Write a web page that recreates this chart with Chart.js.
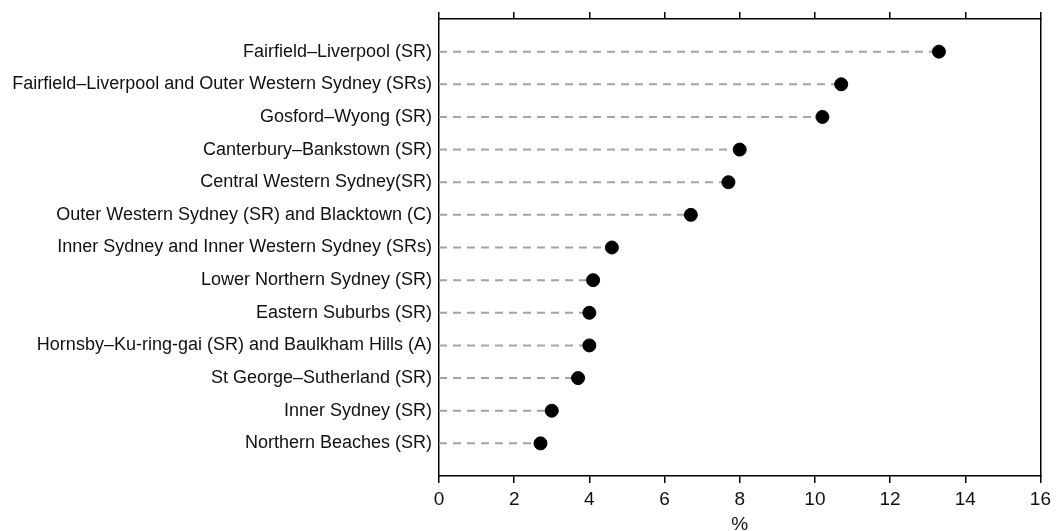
<!DOCTYPE html>
<html><head><meta charset="utf-8">
<script src="https://cdn.jsdelivr.net/npm/chart.js@4"></script>
<style>html,body{margin:0;padding:0;background:#fff}#wrap{width:1056px;height:531px}</style>
</head><body><div id="wrap"><canvas id="c"></canvas></div>
<script>
const categories = [
  "Fairfield–Liverpool (SR)",
  "Fairfield–Liverpool and Outer Western Sydney (SRs)",
  "Gosford–Wyong (SR)",
  "Canterbury–Bankstown (SR)",
  "Central Western Sydney(SR)",
  "Outer Western Sydney (SR) and Blacktown (C)",
  "Inner Sydney and Inner Western Sydney (SRs)",
  "Lower Northern Sydney (SR)",
  "Eastern Suburbs (SR)",
  "Hornsby–Ku-ring-gai (SR) and Baulkham Hills (A)",
  "St George–Sutherland (SR)",
  "Inner Sydney (SR)",
  "Northern Beaches (SR)"
];
const values = [13.3, 10.7, 10.2, 8.0, 7.7, 6.7, 4.6, 4.1, 4.0, 4.0, 3.7, 3.0, 2.7];
const xTicks = [0, 2, 4, 6, 8, 10, 12, 14, 16];
const xTitle = "%";

const FONT = "'Liberation Sans', Arial, sans-serif";
const datasets = [];
categories.forEach((c, i) => {
  datasets.push({
    type: 'line',
    data: [{x: 0, y: i + 1}, {x: values[i], y: i + 1}],
    borderColor: '#a3a3a3', borderWidth: 2, borderDash: [8, 6],
    pointRadius: 0, fill: false, order: 2
  });
});
datasets.push({
  type: 'scatter',
  data: values.map((v, i) => ({x: v, y: i + 1})),
  backgroundColor: '#000', borderColor: '#000', pointRadius: 6.5, order: 1
});

new Chart(document.getElementById('c'), {
  type: 'scatter',
  data: { datasets },
  options: {
    responsive: true, maintainAspectRatio: false, animation: false,
    layout: { padding: { left: 0, right: 15, top: 0, bottom: 0 } },
    plugins: { legend: { display: false }, tooltip: { enabled: false } },
    scales: {
      x: {
        type: 'linear', position: 'bottom', min: 0, max: 16,
        afterBuildTicks: s => { s.ticks = xTicks.map(v => ({value: v})); },
        grid: { drawOnChartArea: false, drawTicks: true, tickLength: 7, color: '#000', lineWidth: 1.5 },
        border: { color: '#000', width: 1.5 },
        ticks: { color: '#111', font: { family: FONT, size: 19 }, padding: 5, maxRotation: 0 },
        title: { display: true, text: xTitle, color: '#111', font: { family: FONT, size: 19 }, padding: { top: 0, bottom: -5 } },
        afterFit: s => { s.height = 55; }
      },
      x2: {
        type: 'linear', position: 'top', min: 0, max: 16,
        afterBuildTicks: s => { s.ticks = xTicks.map(v => ({value: v})); },
        grid: { drawOnChartArea: false, drawTicks: true, tickLength: 7, color: '#000', lineWidth: 1.5 },
        border: { color: '#000', width: 1.5 },
        ticks: { display: false },
        afterFit: s => { s.height = 19; }
      },
      y: {
        type: 'linear', position: 'left', min: 0, max: 14, reverse: true,
        afterBuildTicks: s => { s.ticks = categories.map((c, i) => ({value: i + 1})); },
        grid: { drawOnChartArea: false, drawTicks: false },
        border: { color: '#000', width: 1.5 },
        ticks: { color: '#111', font: { family: FONT, size: 18 }, padding: 7,
          callback: v => categories[v - 1] || '' },
        afterFit: s => { s.width = 439; }
      },
      y2: {
        type: 'linear', position: 'right', min: 0, max: 14,
        grid: { drawOnChartArea: false, drawTicks: false },
        border: { color: '#000', width: 1.5 },
        ticks: { display: false },
        afterFit: s => { s.width = 0; }
      }
    }
  }
});
</script></body></html>
